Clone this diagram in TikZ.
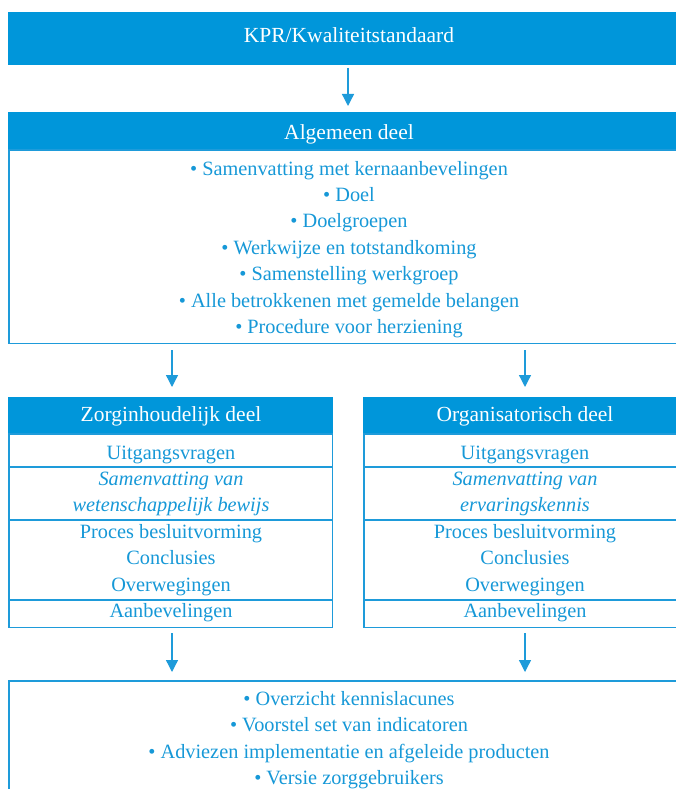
\documentclass[tikz,border=0pt]{standalone}
\usepackage{fontspec}
\setmainfont{Liberation Serif}
\usetikzlibrary{arrows.meta}
\definecolor{hdr}{RGB}{0,150,218}
\definecolor{txt}{RGB}{22,152,215}
\definecolor{brd}{RGB}{30,155,218}
\tikzset{
  hdrbox/.style={fill=hdr, draw=none, inner sep=0pt, anchor=north west},
  bodybox/.style={draw=none, inner sep=0pt, anchor=north west},
  boxline/.style={draw=brd, line width=1.4pt},
  wtxt/.style={text=white, anchor=base, inner sep=0pt, font=\fontsize{21.5}{24}\selectfont},
  btxt/.style={text=txt, anchor=base, inner sep=0pt, font=\fontsize{20.3}{24}\selectfont},
  itxt/.style={text=txt, anchor=base, inner sep=0pt, font=\fontsize{20.3}{24}\selectfont\itshape},
  arr/.style={draw=brd, line width=1.3pt, -{Triangle[length=12pt,width=12pt]}},
  divider/.style={draw=brd, line width=1.4pt}
}
\begin{document}
\begin{tikzpicture}[x=1pt,y=-1pt]
\useasboundingbox (0,0) rectangle (676,789);
\clip (0,0) rectangle (676,789);
% top box
\node[hdrbox, minimum width=682pt, minimum height=53pt] (kpr) at (8,12) {};
\node[wtxt] (kprt) at (349,43) {KPR/Kwaliteitstandaard};
% algemeen
\node[hdrbox, minimum width=682pt, minimum height=38pt] (alghdr) at (8,112) {};
\node[wtxt] (algt) at (349,139.5) {Algemeen deel};
\node[bodybox, minimum width=681pt, minimum height=193pt] (algbody) at (9,150) {};
\draw[boxline] (algbody.north west) rectangle (algbody.south east);
\node[btxt] (a1) at (349,175) {• Samenvatting met kernaanbevelingen};
\node[btxt] (a2) at (349,201.4) {• Doel};
\node[btxt] (a3) at (349,227.8) {• Doelgroepen};
\node[btxt] (a4) at (349,254.2) {• Werkwijze en totstandkoming};
\node[btxt] (a5) at (349,280.6) {• Samenstelling werkgroep};
\node[btxt] (a6) at (349,307) {• Alle betrokkenen met gemelde belangen};
\node[btxt] (a7) at (349,333.4) {• Procedure voor herziening};
% zorginhoudelijk
\node[hdrbox, minimum width=325pt, minimum height=37pt] (zhdr) at (8,397) {};
\node[wtxt] (zt) at (171,421) {Zorginhoudelijk deel};
\node[bodybox, minimum width=323pt, minimum height=193pt] (zbody) at (9,434) {};
\draw[boxline] (zbody.north west) rectangle (zbody.south east);
\coordinate (zd1l) at (9,467); \coordinate (zd1r) at (332,467);
\coordinate (zd2l) at (9,520); \coordinate (zd2r) at (332,520);
\coordinate (zd3l) at (9,600); \coordinate (zd3r) at (332,600);
\draw[divider] (zd1l) -- (zd1r);
\draw[divider] (zd2l) -- (zd2r);
\draw[divider] (zd3l) -- (zd3r);
\node[btxt] (z1) at (171,459) {Uitgangsvragen};
\node[itxt] (z2) at (171,485) {Samenvatting van};
\node[itxt] (z3) at (171,511) {wetenschappelijk bewijs};
\node[btxt] (z4) at (171,538.5) {Proces besluitvorming};
\node[btxt] (z5) at (171,564.5) {Conclusies};
\node[btxt] (z6) at (171,591) {Overwegingen};
\node[btxt] (z7) at (171,617.5) {Aanbevelingen};
% organisatorisch
\node[hdrbox, minimum width=325pt, minimum height=37pt] (ohdr) at (363,397) {};
\node[wtxt] (ot) at (525,421) {Organisatorisch deel};
\node[bodybox, minimum width=323pt, minimum height=193pt] (obody) at (364,434) {};
\draw[boxline] (obody.north west) rectangle (obody.south east);
\coordinate (od1l) at (364,467); \coordinate (od1r) at (687,467);
\coordinate (od2l) at (364,520); \coordinate (od2r) at (687,520);
\coordinate (od3l) at (364,600); \coordinate (od3r) at (687,600);
\draw[divider] (od1l) -- (od1r);
\draw[divider] (od2l) -- (od2r);
\draw[divider] (od3l) -- (od3r);
\node[btxt] (o1) at (525,459) {Uitgangsvragen};
\node[itxt] (o2) at (525,485) {Samenvatting van};
\node[itxt] (o3) at (525,511) {ervaringskennis};
\node[btxt] (o4) at (525,538.5) {Proces besluitvorming};
\node[btxt] (o5) at (525,564.5) {Conclusies};
\node[btxt] (o6) at (525,591) {Overwegingen};
\node[btxt] (o7) at (525,617.5) {Aanbevelingen};
% bottom
\node[bodybox, minimum width=681pt, minimum height=140pt] (bot) at (9,681) {};
\draw[boxline] (bot.north west) rectangle (bot.south east);
\node[btxt] (b1) at (349,705) {• Overzicht kennislacunes};
\node[btxt] (b2) at (349,731.5) {• Voorstel set van indicatoren};
\node[btxt] (b3) at (349,758) {• Adviezen implementatie en afgeleide producten};
\node[btxt] (b4) at (349,784.5) {• Versie zorggebruikers};
% arrows
\coordinate (ka) at (348,65); \coordinate (kb) at (348,112);
\draw[arr, shorten <=3pt, shorten >=6pt] (ka) -- (kb);
\coordinate (zl) at (172,343); \coordinate (zr) at (525,343);
\coordinate (zlt) at (172,397); \coordinate (zrt) at (525,397);
\draw[arr, shorten <=7pt, shorten >=10pt] (zl) -- (zlt);
\draw[arr, shorten <=7pt, shorten >=10pt] (zr) -- (zrt);
\coordinate (bl) at (172,627); \coordinate (br) at (525,627);
\coordinate (blt) at (172,681); \coordinate (brt) at (525,681);
\draw[arr, shorten <=6pt, shorten >=9pt] (bl) -- (blt);
\draw[arr, shorten <=6pt, shorten >=9pt] (br) -- (brt);
\end{tikzpicture}
\end{document}
